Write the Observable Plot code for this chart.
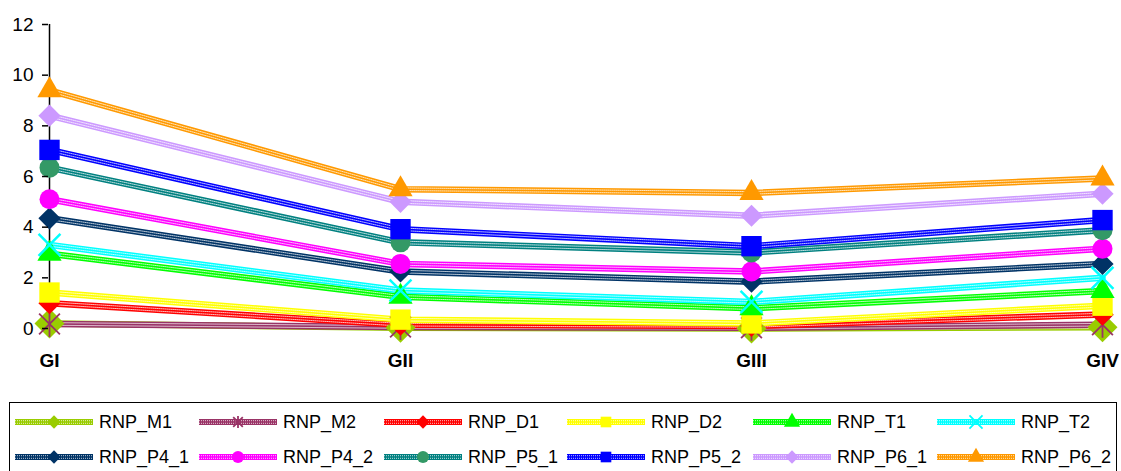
<!DOCTYPE html>
<html><head><meta charset="utf-8">
<script src="https://cdn.jsdelivr.net/npm/d3@7"></script>
<script src="https://cdn.jsdelivr.net/npm/@observablehq/plot@0.6"></script>
<style>
html,body{margin:0;padding:0;background:#fff;overflow:hidden}
body{width:1121px;height:471px;position:relative;font-family:"Liberation Sans",Arial,sans-serif}
#legend{position:absolute;left:9px;top:402px;width:1108px;height:90px;border:1.3px solid #000;box-sizing:border-box}
.item{position:absolute;font-size:18px;color:#000;white-space:nowrap}
</style></head><body><div id="chart"></div><div id="legend"></div>
<script>
const groups = ["GI", "GII", "GIII", "GIV"];
const seriesNames = ["RNP_M1","RNP_M2","RNP_D1","RNP_D2","RNP_T1","RNP_T2","RNP_P4_1","RNP_P4_2","RNP_P5_1","RNP_P5_2","RNP_P6_1","RNP_P6_2"];
const RNP_M1   = [0.2, 0.03, 0.0, 0.05];
const RNP_M2   = [0.18, 0.06, 0.03, 0.15];
const RNP_D1   = [1.0, 0.15, 0.1, 0.55];
const RNP_D2   = [1.42, 0.35, 0.2, 0.9];
const RNP_T1   = [2.95, 1.25, 0.8, 1.48];
const RNP_T2   = [3.3, 1.5, 1.05, 2.0];
const RNP_P4_1 = [4.35, 2.25, 1.85, 2.55];
const RNP_P4_2 = [5.1, 2.55, 2.25, 3.15];
const RNP_P5_1 = [6.35, 3.4, 3.0, 3.88];
const RNP_P5_2 = [7.05, 3.92, 3.25, 4.28];
const RNP_P6_1 = [8.4, 5.0, 4.45, 5.32];
const RNP_P6_2 = [9.4, 5.5, 5.35, 5.92];
const yTicks = [0, 2, 4, 6, 8, 10, 12];

const values = [RNP_M1,RNP_M2,RNP_D1,RNP_D2,RNP_T1,RNP_T2,RNP_P4_1,RNP_P4_2,RNP_P5_1,RNP_P5_2,RNP_P6_1,RNP_P6_2];
const lineColors   = ["#99CC00","#993366","#FF0000","#FFFF00","#00FF00","#00FFFF","#003366","#FF00FF","#008080","#0000FF","#CC99FF","#FF9900"];
const markerColors = ["#99CC00","#993366","#FF0000","#FFFF00","#00FF00","#00FFFF","#003366","#FF00FF","#339966","#0000FF","#CC99FF","#FF9900"];

const star = {draw(ctx, size){ const r = Math.sqrt(size/Math.PI); const d = r*0.8;
  ctx.moveTo(0,-r); ctx.lineTo(0,r); ctx.moveTo(-d,-d); ctx.lineTo(d,d); ctx.moveTo(-d,d); ctx.lineTo(d,-d);} };
const symbols = ["diamond2", star, "diamond2", "square", "triangle", "times", "diamond2", "circle", "circle", "square", "diamond2", "triangle"];
const radii   = [13.5, 13, 10, 11.5, 9, 10, 10, 10, 10, 11.5, 10, 9];
const strokeSym = [false, true, false, false, false, true, false, false, false, false, false, false];

const rows = [];
values.forEach((vals, si) => vals.forEach((v, gi) => rows.push({series: seriesNames[si], si, group: groups[gi], value: v})));

const marks = [];
marks.push(Plot.ruleX([groups[0]], {y1: 0, y2: 12, stroke: "#000", strokeWidth: 1.5}));
seriesNames.forEach((s, si) => {
  const d = rows.filter(r => r.si === si);
  marks.push(Plot.line(d, {x: "group", y: "value", stroke: lineColors[si], strokeWidth: 6.5}));
  marks.push(Plot.line(d, {x: "group", y: "value", dy: -1.3, stroke: "#fff", strokeWidth: 1, strokeOpacity: 0.75, strokeDasharray: "1,1"}));
  marks.push(Plot.line(d, {x: "group", y: "value", dy: 1.3, stroke: "#fff", strokeWidth: 1, strokeOpacity: 0.75, strokeDasharray: "1,1"}));
});
seriesNames.forEach((s, si) => {
  const d = rows.filter(r => r.si === si);
  const opts = {x: "group", y: "value", r: radii[si], symbol: symbols[si]};
  if (strokeSym[si]) Object.assign(opts, {stroke: markerColors[si], strokeWidth: si === 1 ? 1.8 : 2.5, fill: "none"});
  else Object.assign(opts, {fill: markerColors[si], stroke: "none"});
  marks.push(Plot.dot(d, opts));
});
marks.push(Plot.axisY({ticks: yTicks, tickSize: 6, tickPadding: 9, fontSize: 19, strokeWidth: 1.5, label: null}));
marks.push(Plot.axisX({tickSize: 0, tickPadding: 25, fontSize: 19, fontWeight: "bold", label: null}));

const chart = Plot.plot({
  width: 1121, height: 395,
  marginLeft: 48, marginRight: 19, marginTop: 24, marginBottom: 67,
  style: {fontFamily: "'Liberation Sans', Arial, sans-serif", color: "#000", background: "#fff", overflow: "visible"},
  x: {type: "point", domain: groups, padding: 0, axis: null},
  y: {domain: [0, 12], axis: null},
  marks
});
document.getElementById("chart").appendChild(chart);

// legend
const legend = d3.select("#legend");
const colX = [5, 189, 374, 557, 743, 927];
const rowY = [19, 54];
const symMap = {diamond2: d3.symbolDiamond2, square: d3.symbolSquare, triangle: d3.symbolTriangle, times: d3.symbolTimes, circle: d3.symbolCircle};
seriesNames.forEach((s, si) => {
  const col = si % 6, row = Math.floor(si / 6);
  const it = legend.append("div").attr("class", "item").style("left", colX[col] + "px").style("top", (rowY[row] - 12) + "px");
  const svg = it.append("svg").attr("width", 80).attr("height", 24).style("position", "absolute").style("left", "0px").style("top", "0px");
  svg.append("line").attr("x1", 0).attr("x2", 78).attr("y1", 12).attr("y2", 12).attr("stroke", lineColors[si]).attr("stroke-width", 6);
  [-1.3, 1.3].forEach(o => svg.append("line").attr("x1", 0).attr("x2", 78).attr("y1", 12 + o).attr("y2", 12 + o).attr("stroke", "#fff").attr("stroke-width", 1).attr("stroke-opacity", 0.75).attr("stroke-dasharray", "1,1"));
  const sym = typeof symbols[si] === "string" ? symMap[symbols[si]] : symbols[si];
  const rr = 6;
  const p = svg.append("path").attr("transform", "translate(39,12)").attr("d", d3.symbol(sym, Math.PI * rr * rr)());
  if (strokeSym[si]) p.attr("fill", "none").attr("stroke", markerColors[si]).attr("stroke-width", 1.8);
  else p.attr("fill", markerColors[si]);
  it.append("span").text(s).style("position", "absolute").style("left", "84px").style("top", "1px").style("line-height", "22px");
});
</script></body></html>
